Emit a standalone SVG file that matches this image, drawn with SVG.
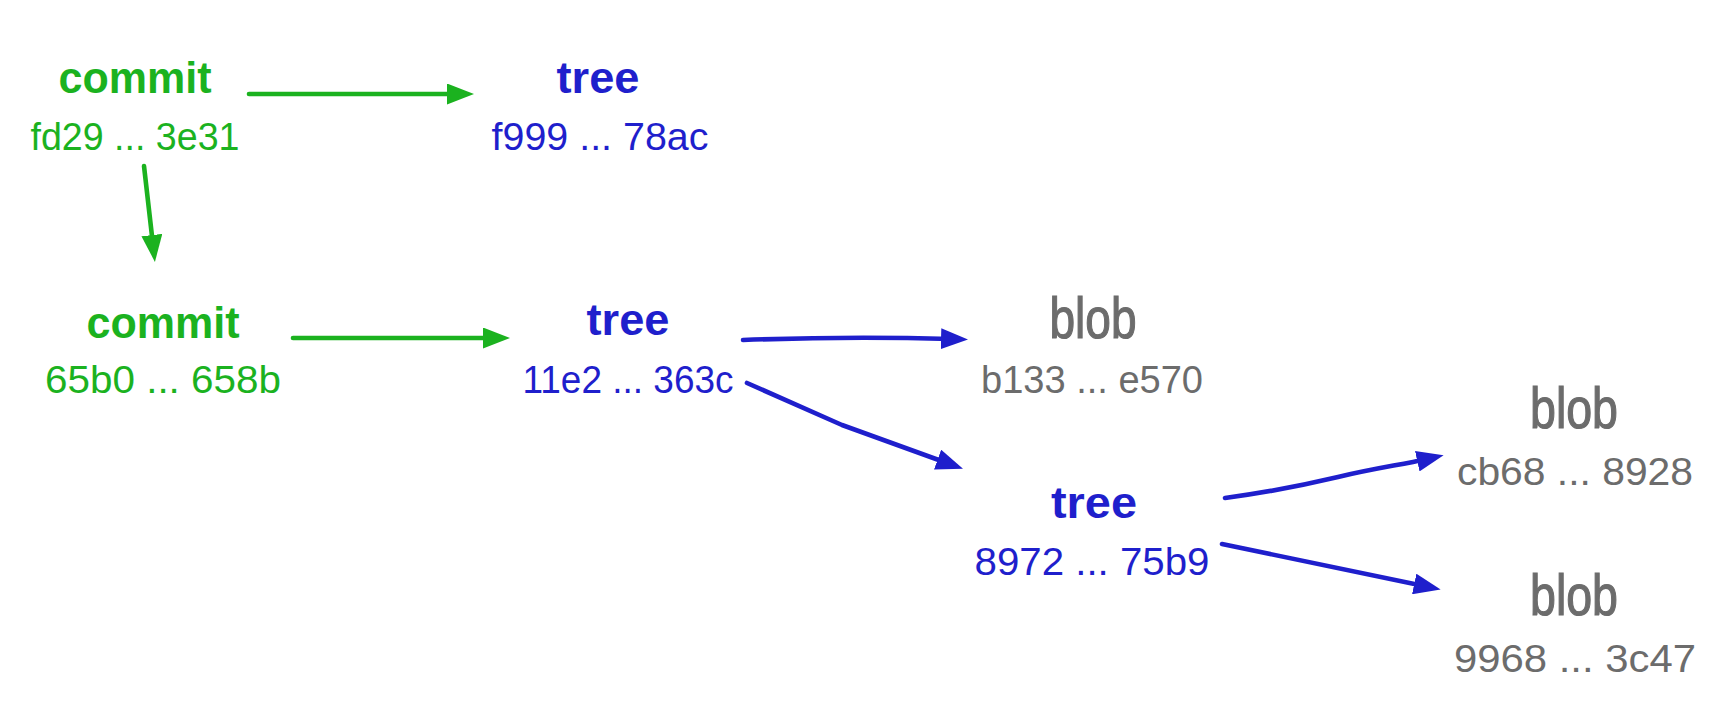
<svg xmlns="http://www.w3.org/2000/svg" width="1730" height="710" viewBox="0 0 1730 710">
<style>
text{font-family:"Liberation Sans",Arial,sans-serif;text-anchor:middle}
.t{font-size:45px;font-weight:bold}
.b{font-size:57px;stroke:#6c6c6c;stroke-width:1.2}
.h{font-size:38px}
.g{fill:#1bb21f}
.u{fill:#1f1fcc}
.y{fill:#6c6c6c}
.cg{fill:none;stroke:#1bb21f;stroke-width:4.6;stroke-linecap:round;stroke-linejoin:round}
.cu{fill:none;stroke:#1f1fcc;stroke-width:4.6;stroke-linecap:round;stroke-linejoin:round}
</style>
<defs>
<marker id="ag" markerUnits="userSpaceOnUse" markerWidth="27" markerHeight="21" refX="10" refY="10.5" orient="auto" viewBox="0 0 27 21"><path d="M0,0 L27,10.5 L0,21 z" fill="#1bb21f"/></marker>
<marker id="au" markerUnits="userSpaceOnUse" markerWidth="27" markerHeight="21" refX="10" refY="10.5" orient="auto" viewBox="0 0 27 21"><path d="M0,0 L27,10.5 L0,21 z" fill="#1f1fcc"/></marker>
</defs>
<rect width="1730" height="710" fill="#ffffff"/>
<g id="connectors">
<path class="cg" d="M249,94 L457,94" marker-end="url(#ag)"/>
<path class="cg" d="M144,166 L153,245" marker-end="url(#ag)"/>
<path class="cg" d="M293,338 L493,338" marker-end="url(#ag)"/>
<path class="cu" d="M743,340 Q850,336 951,339" marker-end="url(#au)"/>
<path class="cu" d="M747,383 L842,425 L947,463" marker-end="url(#au)"/>
<path class="cu" d="M1225,498 C1270,492 1300,486 1338,477 S1400,465 1427,459" marker-end="url(#au)"/>
<path class="cu" d="M1222,544 L1424,586" marker-end="url(#au)"/>
</g>
<g id="commit1"><text class="t g" x="135" y="93" textLength="153" lengthAdjust="spacingAndGlyphs">commit</text><text class="h g" x="135" y="150" textLength="209" lengthAdjust="spacingAndGlyphs">fd29 ... 3e31</text></g>
<g id="tree1"><text class="t u" x="598" y="93" textLength="83" lengthAdjust="spacingAndGlyphs">tree</text><text class="h u" x="600" y="150" textLength="217" lengthAdjust="spacingAndGlyphs">f999 ... 78ac</text></g>
<g id="commit2"><text class="t g" x="163" y="338" textLength="153" lengthAdjust="spacingAndGlyphs">commit</text><text class="h g" x="163" y="393" textLength="236" lengthAdjust="spacingAndGlyphs">65b0 ... 658b</text></g>
<g id="tree2"><text class="t u" x="628" y="335" textLength="83" lengthAdjust="spacingAndGlyphs">tree</text><text class="h u" x="628" y="393" textLength="211" lengthAdjust="spacingAndGlyphs">11e2 ... 363c</text></g>
<g id="blob1"><text class="b y" x="1093" y="338" textLength="87" lengthAdjust="spacingAndGlyphs">blob</text><text class="h y" x="1092" y="393" textLength="222" lengthAdjust="spacingAndGlyphs">b133 ... e570</text></g>
<g id="tree3"><text class="t u" x="1094" y="518" textLength="86" lengthAdjust="spacingAndGlyphs">tree</text><text class="h u" x="1092" y="575" textLength="235" lengthAdjust="spacingAndGlyphs">8972 ... 75b9</text></g>
<g id="blob2"><text class="b y" x="1574" y="428" textLength="88" lengthAdjust="spacingAndGlyphs">blob</text><text class="h y" x="1575" y="485" textLength="236" lengthAdjust="spacingAndGlyphs">cb68 ... 8928</text></g>
<g id="blob3"><text class="b y" x="1574" y="615" textLength="88" lengthAdjust="spacingAndGlyphs">blob</text><text class="h y" x="1575" y="672" textLength="242" lengthAdjust="spacingAndGlyphs">9968 ... 3c47</text></g>
</svg>
